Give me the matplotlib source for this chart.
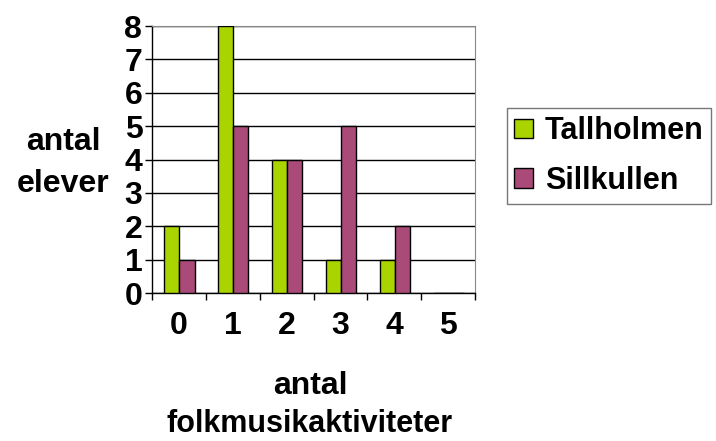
import numpy as np
import matplotlib
matplotlib.use('Agg')
import matplotlib.pyplot as plt

plt.rcParams['font.family'] = ['Liberation Sans', 'DejaVu Sans']
plt.rcParams['font.weight'] = 'bold'

categories = ['0', '1', '2', '3', '4', '5']
tallholmen = [2, 8, 4, 1, 1, 0]
sillkullen = [1, 5, 4, 5, 2, 0]
series_names = ['Tallholmen', 'Sillkullen']
colors = ['#AAD400', '#AA4A78']

fig = plt.figure(figsize=(7.16, 4.41), dpi=100)
ax = fig.add_axes([0.2123, 0.3356, 0.4511, 0.6054])

x = np.arange(len(categories))
width = 0.28
b1 = ax.bar(x - width / 2 + 0.01, tallholmen, width, color=colors[0], edgecolor='black', linewidth=1, zorder=3)
b2 = ax.bar(x + width / 2 + 0.01, sillkullen, width, color=colors[1], edgecolor='black', linewidth=1, zorder=3)

ax.set_xlim(-0.5, len(categories) - 0.5)
ax.set_ylim(0, 8)
ax.set_yticks(range(0, 9))
ax.yaxis.grid(True, color='black', linewidth=1, zorder=0)
ax.set_axisbelow(True)

# category ticks between groups, labels at centres
ax.set_xticks(np.arange(-0.5, len(categories), 1.0))
ax.set_xticklabels([])
ax.set_xticks(x, minor=True)
ax.set_xticklabels(categories, minor=True, fontsize=23, fontweight='bold')
ax.tick_params(axis='x', which='minor', length=0, pad=13)
ax.tick_params(axis='x', which='major', length=5, width=1, direction='out')
ax.tick_params(axis='y', length=5, width=1, direction='out', labelsize=23, pad=2)
for lbl in ax.get_yticklabels():
    lbl.set_fontweight('bold')

for side in ['top', 'right']:
    ax.spines[side].set_color('#888888')
for side in ['left', 'bottom']:
    ax.spines[side].set_color('black')
    ax.spines[side].set_linewidth(1)

fig.text(63 / 716, 1 - 150 / 441, 'antal', ha='center', va='baseline', fontsize=23, fontweight='bold')
fig.text(63 / 716, 1 - 192 / 441, 'elever', ha='center', va='baseline', fontsize=23, fontweight='bold')
fig.text(310 / 716, 1 - 394 / 441, 'antal', ha='center', va='baseline', fontsize=23, fontweight='bold')
fig.text(310 / 716, 1 - 432 / 441, 'folkmusikaktiviteter', ha='center', va='baseline',
         fontsize=22, fontweight='bold')

leg = fig.legend([b1, b2], series_names, loc='center', bbox_to_anchor=(609 / 716, 1 - 156 / 441),
                 fontsize=22, frameon=True, fancybox=False, edgecolor='#555555',
                 handlelength=0.6, handleheight=0.6, handletextpad=0.4,
                 labelspacing=0.65, borderpad=0.25, borderaxespad=0)
leg.get_frame().set_linewidth(1)

fig.savefig('out.png', dpi=100)
